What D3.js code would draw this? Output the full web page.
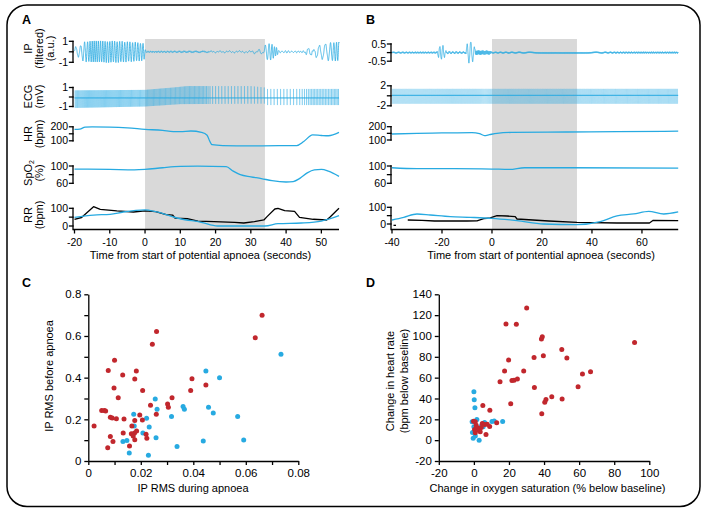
<!DOCTYPE html>
<html><head><meta charset="utf-8">
<script src="https://cdn.jsdelivr.net/npm/d3@7/dist/d3.min.js"></script>
<style>
body{margin:0;background:#fff}
svg{display:block}
text{font-family:"Liberation Sans",Arial,Helvetica,sans-serif;fill:#000}
</style></head>
<body><svg id="c" width="708" height="511"></svg>
<script>
// ---------------- DATA ----------------
const apnoeaWindow = [0, 34];
const timeTicksA = [-20,-10,0,10,20,30,40,50];
const timeTicksB = [-40,-20,0,20,40,60];

// Panel A knots [seconds, value]
const hrA = [[-20,182],[-18.5,184],[-17,198],[-15,200],[-10,198],[-5,192],[0,182],[5,174],[8,166],[10,166],[13,170],[16,160],[17.6,140],[18.3,100],[19,72],[22,66],[30,64],[38,65],[43,66],[45,95],[47.5,142],[50,138],[52,136],[55,160]];
const spo2A = [[-20,93],[-10,92],[-3,91],[0,92],[5,96],[10,99],[15,99.5],[23,98.5],[25,88],[27,80],[30,75],[33,71],[36,66],[40,63],[42,64],[44,72],[46,84],[48,91],[50,92],[52,88],[55,76]];
const rrBlackA = [[-20,38],[-18,48],[-14.6,109],[-12.7,94],[-8,85],[-3.3,79],[0,85],[3,81],[6,64],[7.8,62],[8.5,45],[12,41],[15,28],[19.6,25],[25.4,21],[28,17],[31,25],[33.7,34],[34.6,53],[36.8,96],[37.7,100],[39.6,87],[42.4,83],[43.8,49],[47.7,38],[51.5,34],[52.4,49],[55,100]];
const rrBlueA = [[-20,49],[-14.6,62],[-9.9,66],[-6.2,79],[0,91],[3,81],[10,41],[15.9,21],[20.6,0],[34,0],[37.7,13],[44.3,17],[50,28],[55,58]];
const ipEnvA = [[-20,0.45],[-18.5,0.5],[-17.5,0.9],[-15,1.0],[-8,1.0],[-3,0.9],[-0.3,0.8],[0.2,0.05],[30,0.05],[31,0.12],[33.7,0.2],[34.1,0.6],[35.5,0.7],[37.3,0.45],[37.8,0.03],[45.2,0.03],[46,0.35],[47.2,0.3],[47.8,0.1],[48.3,0.5],[51,0.75],[53,0.85],[55,0.9]];
const ipCardA = [[-20,0.04],[0,0.04],[10,0.06],[28,0.06],[34,0.1],[55,0.05]];
const ecgUpA = [[-20,0.7],[0,0.75],[8,1.0],[12,1.15],[30,1.15],[34,1.0],[34.5,0.85],[55,0.85]];
const ecgDnA = [[-20,-1.15],[0,-1.0],[10,-0.75],[34,-0.7],[34.5,-0.85],[55,-0.85]];

// Panel B knots
const hrB = [[-40,145],[-30,150],[-20,153],[-8,156],[-5,148],[-3,133],[-1,140],[2,150],[8,157],[30,160],[50,163],[74.5,166]];
const spo2B = [[-40,96],[-30,94],[-15,94],[0,93],[7,92],[13,96],[30,96],[74.5,95]];
const rrBlackB = [[-33.7,24],[-28,22],[-23,18],[-10,18],[-6,19],[-3.3,32],[-0.7,36],[2,50],[6,48],[9.3,44],[10,30],[22.7,18],[34,10],[50,6],[63,6],[64.5,22],[74.5,20]];
const rrBlackDashB = [[-39.4,-8],[-38.4,-8]];
const rrBlueB = [[-40,24],[-35.3,40],[-30,60],[-24.7,54],[-16.7,44],[-8.7,40],[0,34],[10,20],[20.7,0],[34,-4],[43.3,14],[50,48],[56.7,60],[62.7,76],[68.7,60],[74.5,72]];
const ipEnvB = [[-40,0.02],[-22,0.02],[-21.3,0.35],[-19.5,0.4],[-18.3,0.05],[-10.5,0.03],[-10,0.5],[-8.5,0.65],[-7,0.35],[-6.6,0.02],[74.5,0.02]];
const ipCardB = [[-40,0.04],[-7,0.04],[-6.5,0.12],[-1,0.1],[0,0.04],[74.5,0.04]];
const ecgUpB = [[-40,1.4],[74.5,1.4]];
const ecgDnB = [[-40,-1.6],[74.5,-1.6]];

// Panel C: IP RMS during apnoea (x) vs before apnoea (y)
const cRed = [[0.0662,0.699],[0.0636,0.592],[0.0260,0.621],[0.0244,0.560],[0.0100,0.483],[0.0076,0.434],[0.0183,0.432],[0.0131,0.413],[0.0177,0.394],[0.0098,0.350],[0.0207,0.338],[0.0114,0.304],[0.0395,0.395],[0.0448,0.365],[0.0390,0.338],[0.0319,0.304],[0.0302,0.274],[0.0305,0.258],[0.0237,0.267],[0.0259,0.224],[0.0051,0.242],[0.0061,0.242],[0.0066,0.240],[0.0084,0.210],[0.0091,0.206],[0.0107,0.203],[0.0136,0.202],[0.0196,0.221],[0.0206,0.197],[0.0177,0.194],[0.0022,0.168],[0.0166,0.168],[0.0184,0.144],[0.0176,0.134],[0.0133,0.134],[0.0164,0.131],[0.0171,0.120],[0.0220,0.128],[0.0223,0.109],[0.0177,0.102],[0.0084,0.118],[0.0094,0.094],[0.0157,0.072],[0.0074,0.064]];
const cBlue = [[0.0734,0.512],[0.0448,0.432],[0.0500,0.400],[0.0255,0.298],[0.0262,0.248],[0.0361,0.261],[0.0366,0.248],[0.0458,0.258],[0.0476,0.230],[0.0317,0.214],[0.0569,0.214],[0.0173,0.224],[0.0222,0.205],[0.0175,0.168],[0.0232,0.163],[0.0208,0.134],[0.0258,0.112],[0.0132,0.094],[0.0147,0.098],[0.0438,0.096],[0.0592,0.101],[0.0338,0.070],[0.0156,0.038],[0.0229,0.027]];
const cTicksX = [0,0.01,0.02,0.03,0.04,0.05,0.06,0.07,0.08];
const cTicksY = [0,0.1,0.2,0.3,0.4,0.5,0.6,0.7,0.8];

// Panel D: change in SpO2 (x) vs change in HR (y)
const dRed = [[30.1,126.9],[18.3,111.5],[24.2,111.2],[39.0,99.3],[38.5,97.1],[91.6,93.8],[50.1,87.1],[53.0,78.8],[39.6,81.0],[34.3,79.4],[19.8,76.9],[17.5,66.3],[28.4,66.3],[14.9,56.0],[21.7,57.3],[22.9,57.6],[24.8,58.6],[66.5,65.6],[61.9,63.4],[59.4,51.2],[34.5,50.6],[44.4,41.6],[41.1,39.0],[40.4,36.5],[50.3,39.4],[21.0,34.9],[38.7,25.3],[5.1,33.3],[9.1,28.8],[-0.2,18.2],[0.8,17.6],[1.3,14.4],[0.4,10.2],[0.8,7.0],[1.9,11.8],[2.9,9.6],[3.6,8.0],[4.8,16.0],[6.1,15.0],[7.6,15.3],[9.0,13.1],[6.9,5.4],[13.0,16.6],[4.2,12.1]];
const dBlue = [[0,46.4],[0.2,38.7],[0.6,31.0],[-1,17.6],[1.7,19.8],[0,12.8],[-0.8,7.3],[-0.4,1.9],[0.8,4.1],[3.0,0],[4.4,14.0],[6.1,16.9],[10.3,17.9],[11.6,18.5],[16.4,17.9],[5.3,12.8]];
const dTicksX = [-20,0,20,40,60,80,100];
const dTicksY = [-20,0,20,40,60,80,100,120,140];

// ---------------- DRAWING ----------------
const BLUE = "#27aae1", RED = "#c1272d", GREY = "#d9d9d9";
const svg = d3.select("#c");

svg.append("rect").attr("x",7).attr("y",5).attr("width",693).attr("height",501.5)
  .attr("rx",20).attr("fill","none").attr("stroke","#000").attr("stroke-width",1.5);

[["A",22,24],["B",366,24],["C",22,287],["D",366,287]].forEach(([t,x,y])=>
  svg.append("text").attr("x",x).attr("y",y).attr("font-size",12.5).attr("font-weight","bold").text(t));

const lerp = k => d3.scaleLinear().domain(k.map(d=>d[0])).range(k.map(d=>d[1])).clamp(true);

function bracket(g, x0, y, tickVals, labelVals, fmt, bottom){
  const ys = tickVals.map(y);
  const top = d3.min(ys), bot = bottom != null ? bottom : d3.max(ys);
  g.append("line").attr("x1",x0).attr("x2",x0).attr("y1",top).attr("y2",bot)
    .attr("stroke","#000").attr("stroke-width",1.3).attr("stroke-linecap","square");
  tickVals.forEach(v => g.append("line").attr("x1",x0-3.5).attr("x2",x0).attr("y1",y(v)).attr("y2",y(v))
    .attr("stroke","#000").attr("stroke-width",1.3).attr("stroke-linecap","square"));
  labelVals.forEach(v => g.append("text").attr("x",x0-5).attr("y",y(v)).attr("dy","0.35em")
    .attr("text-anchor","end").attr("font-size",10.5).text(fmt ? fmt(v) : v));
}

function ipSeries(t0, t1, env, card, rate, hr){
  const dt = 0.02, out = [];
  let pb = 0, pc = 0.25;
  for (let t = t0; t <= t1 + 1e-9; t += dt){
    pb += Math.max(0, rate(t))/60*dt; pc += hr(t)/60*dt;
    out.push([t, env(t)*Math.sin(2*Math.PI*pb) + card(t)*Math.sin(2*Math.PI*pc)]);
  }
  return out;
}
function beatTimes(hr, t0, t1){
  const out = []; let ph = 0.5; const dt = 0.004;
  for (let t = t0; t <= t1 - 0.06; t += dt){ ph += hr(t)/60*dt; if (ph >= 1){ ph -= 1; out.push(t); } }
  return out;
}

function drawTrace(cfg){
  const g = svg.append("g");
  const x = cfg.x, t0 = cfg.domain[0], t1 = cfg.domain[1];
  g.append("rect").attr("x",x(apnoeaWindow[0])).attr("width",x(apnoeaWindow[1])-x(apnoeaWindow[0]))
    .attr("y",39).attr("height",cfg.axisY-39).attr("fill",GREY);

  const hrF = lerp(cfg.hr);
  // IP
  const ipData = ipSeries(t0, t1, lerp(cfg.ipEnv), lerp(cfg.ipCard), lerp(cfg.ipRate), hrF);
  g.append("path").datum(ipData).attr("fill","none").attr("stroke",BLUE).attr("stroke-width",0.8)
    .attr("d", d3.line().x(d=>x(d[0])).y(d=>cfg.yIP(d[1])));
  // ECG
  const up = lerp(cfg.ecgUp), dn = lerp(cfg.ecgDn);
  const beats = beatTimes(hrF, t0, t1);
  const ecgLine = d3.line().x(d=>x(d[0])).y(d=>cfg.yECG(d[1]));
  g.append("line").attr("x1",x(t0)).attr("x2",x(t1)).attr("y1",cfg.yECG(cfg.ecgBase)).attr("y2",cfg.yECG(cfg.ecgBase))
    .attr("stroke",BLUE).attr("stroke-width",1.0);
  g.selectAll(null).data(beats).join("path").attr("fill","none").attr("stroke",BLUE)
    .attr("stroke-width",cfg.ecgWidth).attr("stroke-opacity",cfg.ecgOpacity)
    .attr("d", tb => ecgLine([[tb,cfg.ecgBase],[tb+0.012,up(tb)],[tb+0.035,dn(tb)],[tb+0.055,cfg.ecgBase]]));
  // smooth series
  const smooth = (data, y, col, curve) => g.append("path").datum(data).attr("fill","none").attr("stroke",col)
    .attr("stroke-width",1.3).attr("stroke-linejoin","round")
    .attr("d", d3.line().curve(curve||d3.curveMonotoneX).x(d=>x(d[0])).y(d=>y(d[1])));
  smooth(cfg.hr, cfg.yHR, BLUE);
  smooth(cfg.spo2, cfg.ySp, BLUE);
  smooth(cfg.rrBlack, cfg.yRR, "#000", d3.curveLinear);
  if (cfg.rrBlackDash) smooth(cfg.rrBlackDash, cfg.yRR, "#000", d3.curveLinear);
  smooth(cfg.rrBlue, cfg.yRR, BLUE);

  // y brackets
  const ax = cfg.axisX;
  bracket(g, ax, cfg.yIP, cfg.ipTicks, [cfg.ipTicks[0], cfg.ipTicks[2]]);
  bracket(g, ax, cfg.yECG, cfg.ecgTicks, [cfg.ecgTicks[0], cfg.ecgTicks[2]]);
  bracket(g, ax, cfg.yHR, [100,150,200], [100,200]);
  bracket(g, ax, cfg.ySp, [60,80,100], [60,100]);
  bracket(g, ax, cfg.yRR, [0,50,100], [0,100], null, cfg.axisY);

  // x axis
  g.append("line").attr("x1",ax).attr("x2",x(t1)).attr("y1",cfg.axisY).attr("y2",cfg.axisY)
    .attr("stroke","#000").attr("stroke-width",1.3);
  cfg.xTicks.forEach(v => {
    g.append("line").attr("x1",x(v)).attr("x2",x(v)).attr("y1",cfg.axisY).attr("y2",cfg.axisY+4)
      .attr("stroke","#000").attr("stroke-width",1.3);
    g.append("text").attr("x",x(v)).attr("y",cfg.axisY+16.5).attr("text-anchor","middle")
      .attr("font-size",10.5).text(v);
  });
  g.append("text").attr("x",cfg.titleX).attr("y",258.5).attr("text-anchor","middle").attr("font-size",11).text(cfg.title);
}

drawTrace({
  x: d3.scaleLinear().domain([-20,55]).range([74.5,339]), domain:[-20,55], axisX:73, axisY:229.5,
  yIP: d3.scaleLinear().domain([-1,1]).range([62.3,41.3]), ipTicks:[-1,0,1],
  yECG: d3.scaleLinear().domain([-1,1]).range([106.5,87.5]), ecgTicks:[-1,0,1], ecgBase:-0.1, ecgOpacity:0.7, ecgWidth:0.5,
  yHR: d3.scaleLinear().domain([100,200]).range([140.8,126.8]),
  ySp: d3.scaleLinear().domain([60,100]).range([183.3,166]),
  yRR: d3.scaleLinear().domain([0,100]).range([226,208.3]),
  hr: hrA, spo2: spo2A, rrBlack: rrBlackA, rrBlue: rrBlueA,
  ipEnv: ipEnvA, ipCard: ipCardA, ipRate: rrBlackA, ecgUp: ecgUpA, ecgDn: ecgDnA,
  xTicks: timeTicksA, titleX: 200.5, title: "Time from start of potential apnoea (seconds)"
});
drawTrace({
  x: d3.scaleLinear().domain([-40,74.5]).range([392,678.2]), domain:[-40,74.5], axisX:391, axisY:229.5,
  yIP: d3.scaleLinear().domain([-0.5,0.5]).range([61.2,44]), ipTicks:[-0.5,0,0.5],
  yECG: d3.scaleLinear().domain([-2,2]).range([105.8,85.8]), ecgTicks:[-2,0,2], ecgBase:0.1, ecgOpacity:0.3, ecgWidth:0.7,
  yHR: d3.scaleLinear().domain([100,200]).range([140,126.7]),
  ySp: d3.scaleLinear().domain([60,100]).range([183.3,166]),
  yRR: d3.scaleLinear().domain([0,100]).range([224,207.3]),
  hr: hrB, spo2: spo2B, rrBlack: rrBlackB, rrBlackDash: rrBlackDashB, rrBlue: rrBlueB,
  ipEnv: ipEnvB, ipCard: ipCardB, ipRate: rrBlueB, ecgUp: ecgUpB, ecgDn: ecgDnB,
  xTicks: timeTicksB, titleX: 541, title: "Time from start of pontential apnoea (seconds)"
});

// Row labels for panel A
function rowLabel(lines, cy){
  const base = [32, 43, 53.5];
  lines.forEach((ln,i) => {
    const t = svg.append("text").attr("transform",`translate(${base[i]},${cy}) rotate(-90)`)
      .attr("text-anchor","middle").attr("font-size",11);
    if (ln === "SpO2"){ t.append("tspan").text("SpO"); t.append("tspan").attr("font-size",7).attr("dy",2).text("2"); }
    else t.text(ln);
  });
}
rowLabel(["IP","(filtered)","(a.u.)"], 48.5);
rowLabel(["ECG","(mV)"], 96.5);
rowLabel(["HR","(bpm)"], 134);
rowLabel(["SpO2","(%)"], 173);
rowLabel(["RR","(bpm)"], 215);

// Scatter helper
function scatter(cfg){
  const g = svg.append("g");
  const ax = g.append("g").attr("transform",`translate(0,${cfg.y.range()[0]})`)
    .call(d3.axisBottom(cfg.x).tickValues(cfg.xTicks).tickFormat(cfg.xFmt).tickSize(4).tickPadding(4).tickSizeOuter(0));
  const ay = g.append("g").attr("transform",`translate(${cfg.x.range()[0]},0)`)
    .call(d3.axisLeft(cfg.y).tickValues(cfg.yTicks).tickFormat(cfg.yFmt).tickSize(4).tickPadding(3).tickSizeOuter(0));
  [ax,ay].forEach(a => {
    a.attr("font-size",11.5).attr("font-family",null);
    a.selectAll("path,line").attr("stroke","#000").attr("stroke-width",1.3);
  });
  g.selectAll(null).data(cfg.blue).join("circle").attr("cx",d=>cfg.x(d[0])).attr("cy",d=>cfg.y(d[1]))
    .attr("r",2.5).attr("fill",BLUE);
  g.selectAll(null).data(cfg.red).join("circle").attr("cx",d=>cfg.x(d[0])).attr("cy",d=>cfg.y(d[1]))
    .attr("r",2.5).attr("fill",RED);
  g.append("text").attr("x",cfg.xTitleX).attr("y",492).attr("text-anchor","middle").attr("font-size",11).text(cfg.xTitle);
  cfg.yTitle.forEach((ln,i) => g.append("text")
    .attr("transform",`translate(${cfg.yTitleX[i]},${cfg.yTitleY}) rotate(-90)`)
    .attr("text-anchor","middle").attr("font-size",11).text(ln));
}

scatter({
  x: d3.scaleLinear().domain([0,0.08]).range([88.3,298.3]),
  y: d3.scaleLinear().domain([0,0.8]).range([461,294.3]),
  xTicks: cTicksX, yTicks: cTicksY,
  xFmt: v => { const i = Math.round(v*100); return i % 2 ? "" : (i === 0 ? "0" : v.toFixed(2)); },
  yFmt: v => { const i = Math.round(v*10); return i % 2 ? "" : (i === 0 ? "0" : v.toFixed(1)); },
  red: cRed, blue: cBlue,
  xTitle: "IP RMS during apnoea", xTitleX: 193,
  yTitle: ["IP RMS before apnoea"], yTitleX: [53], yTitleY: 376
});
scatter({
  x: d3.scaleLinear().domain([-20,100]).range([438.8,649.3]),
  y: d3.scaleLinear().domain([-20,140]).range([461,294.3]),
  xTicks: dTicksX, yTicks: dTicksY, xFmt: d => d, yFmt: d => d,
  red: dRed, blue: dBlue,
  xTitle: "Change in oxygen saturation (% below baseline)", xTitleX: 547.5,
  yTitle: ["Change in heart rate","(bpm below baseline)"], yTitleX: [394,408], yTitleY: 381
});
</script></body></html>
